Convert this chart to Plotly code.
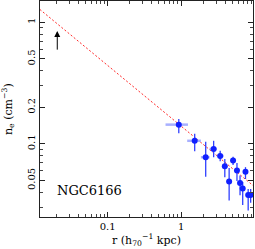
import numpy as np
import plotly.graph_objects as go

# data points
r = [0.93, 1.53, 2.16, 2.77, 3.40, 3.93, 4.50, 5.09, 5.75, 6.33, 6.88, 7.51, 8.17, 8.83]
r_lo = [0.614, 1.21, 1.86, 2.44, 3.06, 3.70, 4.19, 4.80, 5.40, 6.05, 6.60, 7.20, 7.85, 8.50]
r_hi = [1.24, 1.86, 2.44, 3.06, 3.78, 4.19, 4.80, 5.40, 6.05, 6.60, 7.20, 7.85, 8.50, 9.20]
ne = [0.144, 0.106, 0.0776, 0.0908, 0.0795, 0.0655, 0.0491, 0.0728, 0.0604, 0.0477, 0.043, 0.059, 0.038, 0.038]
ne_hi = [0.160, 0.121, 0.104, 0.106, 0.0879, 0.0751, 0.0634, 0.0785, 0.0697, 0.055, 0.0486, 0.0643, 0.0426, 0.0426]
ne_lo = [0.122, 0.087, 0.0537, 0.0776, 0.0719, 0.0531, 0.0341, 0.067, 0.0495, 0.0377, 0.0314, 0.0514, 0.0283, 0.0327]

# power-law model line
model_r = [0.0120, 9.5]
model_norm = 0.14
model_slope = -0.5

# arrow marker
arrow_r = 0.0207
arrow_ne_tail = 0.58
arrow_ne_tip = 0.85

label_text = "NGC6166"
label_r = 0.056
label_ne = 0.041

x_ticks = [0.1, 1]
x_ticklabels = ["0.1", "1"]
y_ticks = [0.05, 0.1, 0.2, 0.5, 1]
y_ticklabels = ["0.05", "0.1", "0.2", "0.5", "1"]

FONT = "DejaVu Serif"

fig = go.Figure()

mr = np.array(model_r)
fig.add_trace(go.Scatter(
    x=mr, y=model_norm * mr ** model_slope, mode="lines",
    line=dict(color="#ff2a2a", width=1, dash="2px,2px"), showlegend=False, hoverinfo="skip"))

r_a = np.array(r); ne_a = np.array(ne)
# horizontal error bars (light blue)
fig.add_trace(go.Scatter(
    x=r, y=ne, mode="markers", marker=dict(size=0.1, color="rgba(0,0,0,0)"),
    error_x=dict(type="data", symmetric=False,
                 array=list(np.array(r_hi) - r_a), arrayminus=list(r_a - np.array(r_lo)),
                 color="#a8b0ff", thickness=2.5, width=0),
    showlegend=False, hoverinfo="skip"))
# vertical error bars + points
fig.add_trace(go.Scatter(
    x=r, y=ne, mode="markers", marker=dict(size=6, color="#1020ff", line=dict(width=0)),
    error_y=dict(type="data", symmetric=False,
                 array=list(np.array(ne_hi) - ne_a), arrayminus=list(ne_a - np.array(ne_lo)),
                 color="#3040ff", thickness=1.3, width=0),
    showlegend=False, hoverinfo="skip"))

fig.add_annotation(x=np.log10(arrow_r), y=np.log10(arrow_ne_tip), ax=np.log10(arrow_r), ay=np.log10(arrow_ne_tail),
                   xref="x", yref="y", axref="x", ayref="y", text="", showarrow=True,
                   arrowhead=2, arrowsize=1.2, arrowwidth=1, arrowcolor="black")

fig.add_annotation(x=np.log10(label_r), y=np.log10(label_ne), xref="x", yref="y", text=label_text,
                   showarrow=False, font=dict(family=FONT, size=13, color="black"))

# axis titles as paper annotations
fig.add_annotation(x=0.5, y=0, xref="paper", yref="paper", yshift=-23, yanchor="middle",
                   text="r (h<sub>70</sub><sup>−1</sup> kpc)", showarrow=False,
                   font=dict(family=FONT, size=11, color="black"))
fig.add_annotation(x=0, y=0.5, xref="paper", yref="paper", xshift=-32, xanchor="center",
                   text="n<sub>e</sub> (cm<sup>−3</sup>)", showarrow=False, textangle=-90,
                   font=dict(family=FONT, size=11, color="black"))

axis_common = dict(type="log", showgrid=False, zeroline=False, showline=True, linecolor="#222",
                   linewidth=1, mirror="allticks", ticks="inside", ticklen=5, tickcolor="#222",
                   automargin=False,
                   tickfont=dict(family=FONT, size=10, color="black"),
                   minor=dict(ticks="inside", ticklen=3, tickcolor="#444", dtick="D1", showgrid=False))

fig.update_xaxes(**axis_common, range=[np.log10(0.01205), np.log10(9.5)],
                 tickvals=x_ticks, ticktext=x_ticklabels)
fig.update_yaxes(**axis_common, range=[np.log10(0.025), np.log10(1.5)],
                 tickvals=y_ticks, ticktext=y_ticklabels, tickangle=-90)

fig.update_layout(width=255, height=249, margin=dict(l=40, r=2, t=1, b=32),
                  plot_bgcolor="white", paper_bgcolor="white")

fig.write_html("out.html", config={"displayModeBar": False},
               post_script="document.body.style.margin='0';document.body.style.overflow='hidden';")
